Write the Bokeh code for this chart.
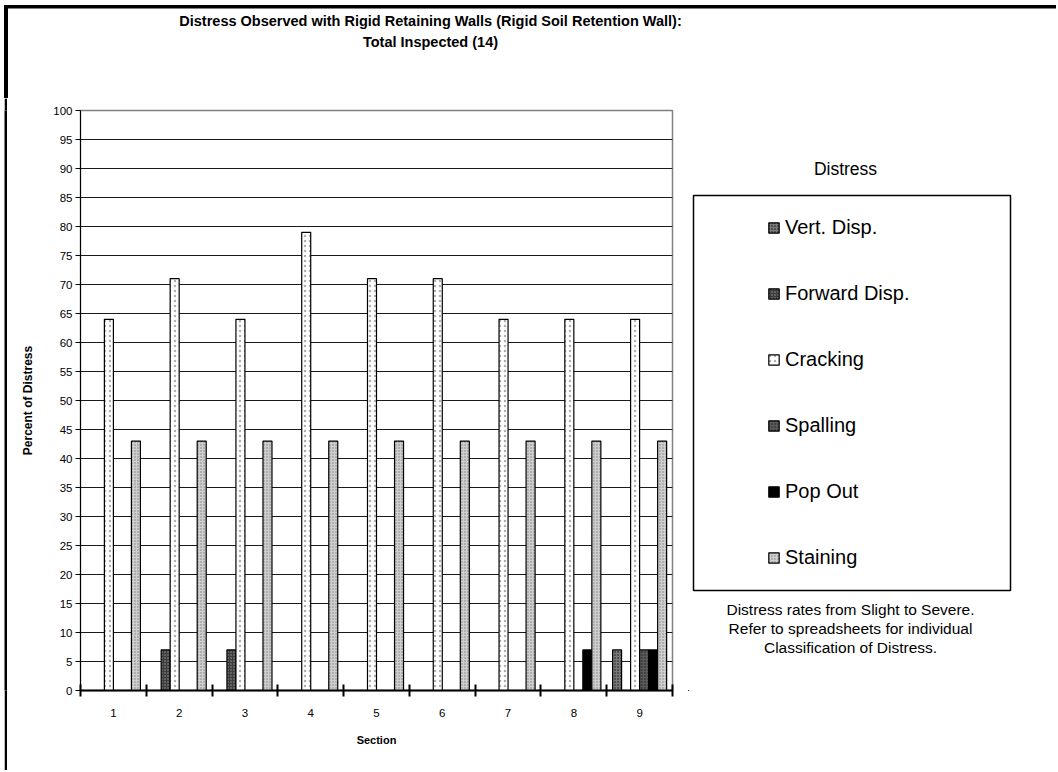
from bokeh.plotting import figure
from bokeh.models import (ColumnDataSource, FixedTicker, Label, Legend, LegendItem, Range1d, Spacer)
from bokeh.layouts import column, row
from bokeh.transform import dodge
from bokeh.embed import file_html
from bokeh.resources import INLINE

# ---------------- data ----------------
sections = ["1", "2", "3", "4", "5", "6", "7", "8", "9"]
series_names = ["Vert. Disp.", "Forward Disp.", "Cracking", "Spalling", "Pop Out", "Staining"]
vert_disp = [0, 0, 0, 0, 0, 0, 0, 0, 7]
forward_disp = [0, 7, 7, 0, 0, 0, 0, 0, 0]
cracking = [64, 71, 64, 79, 71, 71, 64, 64, 64]
spalling = [0, 0, 0, 0, 0, 0, 0, 0, 7]
pop_out = [0, 0, 0, 0, 0, 0, 0, 7, 7]
staining = [43, 43, 43, 43, 43, 43, 43, 43, 43]
y_ticks = list(range(0, 101, 5))

title_lines = ["Distress Observed with Rigid Retaining Walls (Rigid Soil Retention Wall):",
               "Total Inspected (14)"]
legend_title = "Distress"
note_lines = ["Distress rates from Slight to Severe.",
              "Refer to spreadsheets for individual",
              "Classification of Distress."]

FONT = "Liberation Sans"

# ---------------- styles ----------------
styles = [
    dict(fill_color="#7a7a7a", hatch_pattern="dot", hatch_color="#111111", hatch_scale=3, hatch_weight=1),
    dict(fill_color="#3c3c3c", hatch_pattern="dot", hatch_color="#9a9a9a", hatch_scale=3, hatch_weight=1),
    dict(fill_color="#ffffff", hatch_pattern="dot", hatch_color="#b0b0b0", hatch_scale=5, hatch_weight=1),
    dict(fill_color="#5c5c5c", hatch_pattern="dot", hatch_color="#1a1a1a", hatch_scale=3, hatch_weight=1),
    dict(fill_color="#000000"),
    dict(fill_color="#cfcfcf", hatch_pattern="dot", hatch_color="#808080", hatch_scale=3, hatch_weight=1),
]

TOTAL_W, TOTAL_H = 1056, 770
TITLE_H = 98
ROW_H = TOTAL_H - TITLE_H          # 672
FRAME_TOP = 12                     # page y 110
FRAME_H = 580                      # page y 690
FRAME_BOTTOM = ROW_H - FRAME_TOP - FRAME_H
LEFT_PAD, LINE_W = 4, 3
MAIN_X0 = LEFT_PAD + LINE_W        # page x 7
MAIN_W = 688 - MAIN_X0
LEG_X0 = 688
LEG_W = TOTAL_W - LEG_X0


def blank(w, h, fill="white", **kw):
    f = figure(width=w, height=h, x_axis_type=None, y_axis_type=None,
               output_backend="svg", toolbar_location=None,
               background_fill_color=fill, border_fill_color=fill, **kw)
    f.outline_line_color = None
    f.grid.visible = False
    return f


# ---------------- title strip ----------------
tf = blank(TOTAL_W, TITLE_H, min_border=0, x_range=Range1d(0, TOTAL_W), y_range=Range1d(0, TITLE_H))
tf.quad(left=[LEFT_PAD], right=[TOTAL_W], top=[TITLE_H - 5], bottom=[TITLE_H - 7.5], color="black")
tf.quad(left=[LEFT_PAD], right=[MAIN_X0], top=[TITLE_H - 5], bottom=[0], color="black")
for text, y in zip(title_lines, [20, 41]):
    tf.add_layout(Label(x=430, y=TITLE_H - y, text=text, text_align="center", text_baseline="middle",
                        text_font=FONT, text_font_size="14.5px", text_font_style="bold",
                        text_color="black"))

# ---------------- left frame line ----------------
sf = blank(LINE_W, ROW_H, fill="black", min_border_left=0, min_border_right=0,
           min_border_top=FRAME_TOP, min_border_bottom=FRAME_BOTTOM,
           x_range=Range1d(0, 1), y_range=Range1d(0, 1))

# ---------------- main chart ----------------
src = ColumnDataSource(dict(
    pos=[i + 0.5 for i in range(len(sections))],
    vert_disp=vert_disp, forward_disp=forward_disp, cracking=cracking,
    spalling=spalling, pop_out=pop_out, staining=staining,
))
cols = ["vert_disp", "forward_disp", "cracking", "spalling", "pop_out", "staining"]

p = figure(frame_width=592, frame_height=FRAME_H,
           min_border_left=80 - MAIN_X0, min_border_right=MAIN_W - (80 - MAIN_X0) - 592,
           min_border_top=FRAME_TOP, min_border_bottom=FRAME_BOTTOM,
           x_range=Range1d(0, len(sections)), y_range=Range1d(0, 100),
           output_backend="svg", toolbar_location=None,
           background_fill_color="white", border_fill_color="white")

bar_w = 0.137
for k, col in enumerate(cols):
    p.vbar(x=dodge("pos", (k - 2.5) * bar_w, range=p.x_range), top=col, width=bar_w,
           source=src, line_color="black", line_width=1.2, **styles[k])

xa = p.xaxis[0]
xa.ticker = FixedTicker(ticks=[i + 0.5 for i in range(len(sections))],
                        minor_ticks=list(range(len(sections) + 1)))
xa.major_label_overrides = {i + 0.5: s for i, s in enumerate(sections)}
xa.major_tick_in = 0
xa.major_tick_out = 0
xa.minor_tick_in = 6
xa.minor_tick_out = 6
xa.minor_tick_line_width = 2
xa.minor_tick_line_color = "black"
xa.axis_line_width = 2
xa.axis_line_color = "black"
xa.major_label_standoff = 12
xa.major_label_text_font = FONT
xa.major_label_text_font_size = "11.5px"
xa.major_label_text_color = "black"
xa.axis_label = "Section"
xa.axis_label_text_font = FONT
xa.axis_label_text_font_size = "11px"
xa.axis_label_text_font_style = "bold"
xa.axis_label_text_color = "black"
xa.axis_label_standoff = 14

ya = p.yaxis[0]
ya.ticker = FixedTicker(ticks=y_ticks, minor_ticks=[])
ya.major_tick_in = 0
ya.major_tick_out = 5
ya.major_tick_line_color = "black"
ya.axis_line_color = "black"
ya.major_label_standoff = 3
ya.major_label_text_font = FONT
ya.major_label_text_font_size = "11.5px"
ya.major_label_text_color = "black"
ya.axis_label = "Percent of Distress"
ya.axis_label_text_font = FONT
ya.axis_label_text_font_size = "12px"
ya.axis_label_text_font_style = "bold"
ya.axis_label_text_color = "black"
ya.axis_label_standoff = 15

p.xgrid.visible = False
p.ygrid.grid_line_color = "#1a1a1a"
p.ygrid.grid_line_width = 1
p.outline_line_color = "#808080"
p.outline_line_width = 1.5

# ---------------- legend panel (frame aligned with the chart frame) ----------------
# data coords: x = page_x - 688, y = 690 - page_y
lf = blank(LEG_W, ROW_H, min_border_left=0, min_border_right=0,
           min_border_top=FRAME_TOP, min_border_bottom=FRAME_BOTTOM,
           x_range=Range1d(0, LEG_W), y_range=Range1d(0, FRAME_H))
lf.quad(left=[693 - LEG_X0], right=[1010 - LEG_X0], top=[690 - 195], bottom=[690 - 590],
        fill_alpha=0, line_color="black", line_width=1.5)
# legend key proxies (kept outside the visible range; they only supply the swatches)
proxies = []
for k in range(len(series_names)):
    proxies.append(lf.vbar(x=[-1000], top=[-1000], bottom=[-1001], width=1,
                           line_color="black", line_width=1.2, **styles[k]))
legend = Legend(items=[LegendItem(label=n, renderers=[r]) for n, r in zip(series_names, proxies)],
                location=(767 - LEG_X0, 690 - 569), padding=0, spacing=43,
                glyph_width=13, glyph_height=13, label_height=22, label_standoff=5,
                label_text_font=FONT, label_text_font_size="20px", label_text_color="black",
                border_line_alpha=0, background_fill_alpha=0)
lf.add_layout(legend)
lf.add_layout(Label(x=845 - LEG_X0, y=690 - 168, text=legend_title, text_align="center",
                    text_baseline="middle", text_font=FONT, text_font_size="17.5px",
                    text_color="black"))
for text, y in zip(note_lines, [609, 628, 647]):
    lf.add_layout(Label(x=850 - LEG_X0, y=690 - y, text=text, text_align="center",
                        text_baseline="middle", text_font=FONT, text_font_size="15.5px",
                        text_color="black"))

layout = column(tf, row(Spacer(width=LEFT_PAD, height=ROW_H), sf, p, lf, spacing=0), spacing=0)
open("out.html", "w").write(file_html(layout, INLINE))
